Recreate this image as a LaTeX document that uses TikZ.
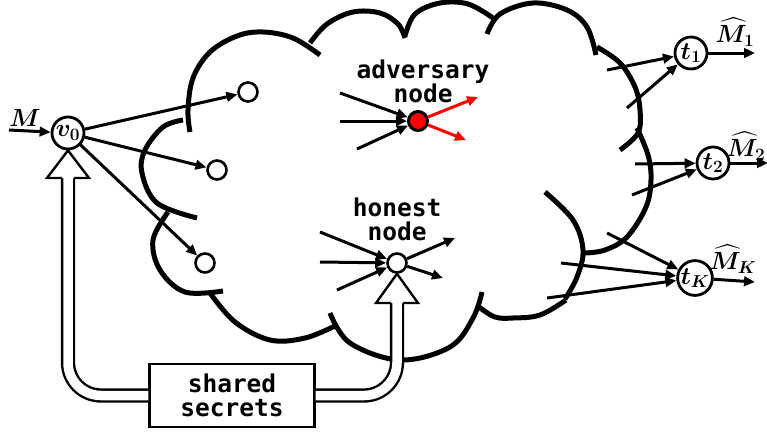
\documentclass[tikz,border=0pt]{standalone}
\usepackage{amsmath,bm}
\usepackage{fontspec}
\newfontfamily\labfont{DejaVu Sans Mono}
\usetikzlibrary{arrows.meta}
\begin{document}
\begin{tikzpicture}[x=1pt,y=-1pt,
  arr/.style={line width=3pt,-{Triangle[length=11pt,width=9.5pt]}},
  redarr/.style={arr,red},
  lobe/.style={line width=5pt,smooth,tension=0.6},
  small/.style={circle,draw,line width=2.6pt,minimum size=19pt,inner sep=0pt,fill=white},
  term/.style={circle,draw,line width=2.8pt,minimum size=32pt,inner sep=0pt,font=\fontsize{26}{26}\selectfont},
  lab/.style={font=\labfont\bfseries\fontsize{24.5}{24}\selectfont,align=center,inner sep=0pt},
  mlabel/.style={font=\fontsize{23}{23}\selectfont,inner sep=0pt},
  shaft/.style={line width=2.4pt,double=white,double distance=9.5pt,rounded corners=33pt},
  head/.style={line width=2.4pt,fill=white,line join=miter}]
\useasboundingbox (0,0) rectangle (767,434);
% cloud
\draw[lobe] plot coordinates {(190,132) (188,110) (193,78) (210,52) (237,36) (263,32) (293,38) (320,55)};
\draw[lobe] plot coordinates {(310,43) (327,24) (353,12) (380,13) (398,24) (405,38)};
\draw[lobe] plot coordinates {(405,36) (415,14) (440,3) (468,4) (493,18)};
\draw[lobe] plot coordinates {(487,34) (500,14) (533,3) (567,10) (587,27) (596,55)};
\draw[lobe] plot coordinates {(597,47) (620,63) (635,87) (640,110) (638,133) (620,150)};
\draw[lobe] plot coordinates {(637,128) (648,155) (651,180) (646,207) (627,237) (605,250) (585,253)};
\draw[lobe] plot coordinates {(545,192) (573,220) (583,250) (577,277) (565,299)};
\draw[lobe] plot coordinates {(479,307) (495,317) (513,318) (540,315) (566,300)};
\draw[lobe] plot coordinates {(330,313) (350,343) (400,360) (450,347) (473,318) (482,292)};
\draw[lobe] plot coordinates {(210,293) (235,322) (270,340) (305,338) (337,325)};
\draw[lobe] plot coordinates {(168,212) (153,240) (160,270) (185,292) (223,291)};
\draw[lobe] plot coordinates {(183,120) (163,127) (145,150) (142,173) (157,203) (197,218)};
% nodes
\node[term] (v0) at (68,133) {$\bm{v_0}$};
\node[small] (c1) at (248,92) {};
\node[small] (c2) at (217,170) {};
\node[small] (c3) at (205,263) {};
\node[small,fill=red,line width=3pt] (adv) at (418,121) {};
\node[small] (hon) at (397,263) {};
\node[term] (t1) at (691,53) {$\bm{t_1}$};
\node[term] (t2) at (713,163) {$\bm{t_2}$};
\node[term] (tK) at (695,278) {$\bm{t_K}$};
\node[lab] (advlab) at (423,81) {adversary\\node};
\node[lab] (honlab) at (397,219) {honest\\node};
% labels
\node[mlabel] (mlab) at (25,118) {$\bm{M}$};
\node[mlabel] (m1) at (735,32) {$\widehat{\bm{M}}_{\bm 1}$};
\node[mlabel] (m2) at (746,146) {$\widehat{\bm{M}}_{\bm 2}$};
\node[mlabel] (mK) at (733,259) {$\widehat{\bm{M}}_{\bm K}$};
% free ends
\coordinate (min) at (9,130);
\coordinate (o1) at (755,53);
\coordinate (o2) at (768,163);
\coordinate (oK) at (755,282);
\coordinate (a1) at (340,93);
\coordinate (a2) at (340,121);
\coordinate (a3) at (357,149);
\coordinate (r1) at (478,97);
\coordinate (r2) at (466,140);
\coordinate (h1) at (320,232);
\coordinate (h2) at (320,262);
\coordinate (h3) at (337,290);
\coordinate (g1) at (455,238);
\coordinate (g2) at (443,278);
\coordinate (p1) at (607,70);
\coordinate (p2) at (627,108);
\coordinate (q1) at (635,164);
\coordinate (q2) at (632,195);
\coordinate (k1) at (607,233);
\coordinate (k2) at (561,263);
\coordinate (k3) at (547,298);
% connectors
\draw[arr] (min) -- (v0);
\draw[arr] (v0) -- (c1);
\draw[arr] (v0) -- (c2);
\draw[arr] (v0) -- (c3);
\draw[arr] (a1) -- (adv);
\draw[arr] (a2) -- (adv);
\draw[arr] (a3) -- (adv);
\draw[redarr] (adv) -- (r1);
\draw[redarr] (adv) -- (r2);
\draw[arr] (h1) -- (hon);
\draw[arr] (h2) -- (hon);
\draw[arr] (h3) -- (hon);
\draw[arr] (hon) -- (g1);
\draw[arr] (hon) -- (g2);
\draw[arr] (p1) -- (t1);
\draw[arr] (p2) -- (t1);
\draw[arr] (q1) -- (t2);
\draw[arr] (q2) -- (t2);
\draw[arr] (k1) -- (tK);
\draw[arr] (k2) -- (tK);
\draw[arr] (k3) -- (tK);
\draw[arr] (t1) -- (o1);
\draw[arr] (t2) -- (o2);
\draw[arr] (tK) -- (oK);
% shared secrets and hollow arrows
\node[lab,draw,line width=2.4pt,minimum width=165pt,minimum height=63pt,fill=white] (ss) at (232,395.5) {shared\\secrets};
\draw[shaft] (ss.west) -- (68,395.5) -- (68,178);
\draw[shaft] (ss.east) -- (397,395.5) -- (397,303);
\draw[head] (62,178) -- (47,178) -- (v0.south) -- (89,178) -- (74,178);
\draw[head] (391,303) -- (376,303) -- (hon.south) -- (418,303) -- (403,303);
\end{tikzpicture}
\end{document}
